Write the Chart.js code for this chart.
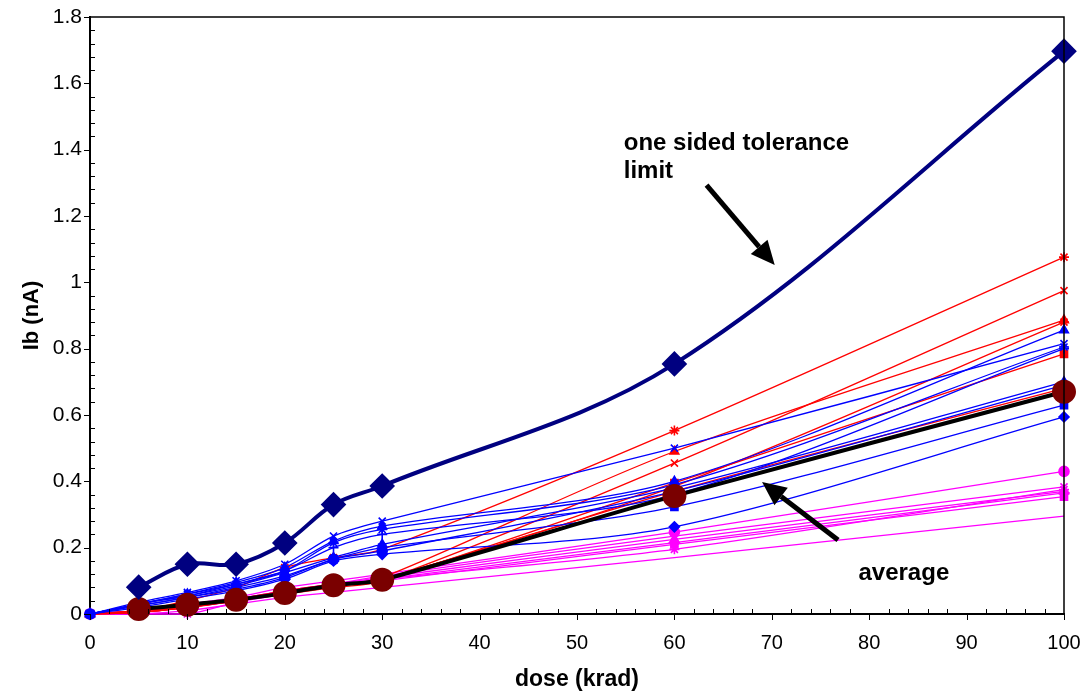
<!DOCTYPE html>
<html>
<head>
<meta charset="utf-8">
<script src="https://cdn.jsdelivr.net/npm/chart.js@4.4.1/dist/chart.umd.min.js"></script>
<style>
  html, body { margin: 0; padding: 0; background: #fff; }
  #wrap { width: 1080px; height: 696px; position: relative; }
</style>
</head>
<body>
<div id="wrap"><canvas id="c" width="1080" height="696"></canvas></div>
<script>
// dose points (krad)
const doses = [0, 5, 10, 15, 20, 25, 30, 60, 100];
const xTicks = [0, 10, 20, 30, 40, 50, 60, 70, 80, 90, 100];
const yTicks = [0, 0.2, 0.4, 0.6, 0.8, 1, 1.2, 1.4, 1.6, 1.8];

// summary curves
const tolerance = [null, 0.081, 0.15, 0.15, 0.214, 0.33, 0.386, 0.754, 1.697];
const average = [null, 0.015, 0.028, 0.043, 0.063, 0.087, 0.103, 0.356, 0.67];

// individual parts, blue group
const blue1 = [0, 0.035, 0.065, 0.10, 0.15, 0.235, 0.28, 0.50, 0.815];
const blue2 = [0, 0.03, 0.06, 0.095, 0.14, 0.22, 0.265, 0.40, 0.856];
const blue3 = [0, 0.03, 0.06, 0.09, 0.13, 0.215, 0.255, 0.39, 0.805];
const blue4 = [0, 0.03, 0.055, 0.085, 0.125, 0.17, 0.21, 0.38, 0.70];
const blue5 = [0, 0.025, 0.05, 0.08, 0.115, 0.165, 0.20, 0.323, 0.63];
const blue6 = [0, 0.02, 0.045, 0.07, 0.105, 0.16, 0.18, 0.263, 0.594];
const blue7 = [0, 0.025, 0.05, 0.075, 0.11, 0.165, 0.19, 0.37, 0.69];
const blue8 = [0, 0.03, 0.055, 0.09, 0.13, 0.20, 0.24, 0.36, 0.80];

// red group
const red1 = [0, 0.01, 0.04, 0.08, 0.14, 0.17, 0.195, 0.553, 1.076];
const red2 = [0, 0.005, 0.02, 0.04, 0.06, 0.08, 0.10, 0.455, 0.975];
const red3 = [0, 0.005, 0.02, 0.045, 0.065, 0.085, 0.11, 0.49, 0.886];
const red4 = [0, 0.01, 0.025, 0.045, 0.07, 0.09, 0.105, 0.385, 0.88];
const red5 = [0, 0.005, 0.02, 0.04, 0.06, 0.085, 0.10, 0.395, 0.784];
const red6 = [0, 0.01, 0.02, 0.04, 0.065, 0.085, 0.105, 0.37, 0.68];

// magenta group
const mag1 = [0, 0.01, 0.03, 0.05, 0.08, 0.10, 0.12, 0.247, 0.43];
const mag2 = [0, 0.005, 0.02, 0.045, 0.07, 0.09, 0.115, 0.235, 0.383];
const mag3 = [0, 0, 0, 0.035, 0.06, 0.085, 0.105, 0.195, 0.375];
const mag4 = [0, 0.01, 0.025, 0.045, 0.07, 0.09, 0.11, 0.225, 0.37];
const mag5 = [0, 0.005, 0.02, 0.04, 0.065, 0.085, 0.105, 0.215, 0.365];
const mag6 = [0, 0.005, 0.02, 0.04, 0.065, 0.085, 0.10, 0.21, 0.354];
const mag7 = [0, 0, 0.01, 0.03, 0.05, 0.065, 0.08, 0.17, 0.295];

const BLUE = '#0000FF', RED = '#FF0000', MAG = '#FF00FF';

function pts(values) {
    return doses.map((d, i) => ({ x: d, y: values[i] }));
}

function part(values, color, style) {
    return {
        data: pts(values),
        borderColor: color,
        backgroundColor: color,
        borderWidth: 1.3,
        pointStyle: style || false,
        pointRadius: style ? 5 : 0,
        pointBorderWidth: 1.6,
        tension: 0.3,
        clip: false
    };
}

const datasets = [
    {
        data: pts(tolerance),
        borderColor: '#000080',
        backgroundColor: '#000080',
        borderWidth: 4,
        pointStyle: 'rectRot',
        pointRadius: 10,
        tension: 0.35,
        clip: false
    },
    {
        data: pts(average),
        borderColor: '#000000',
        backgroundColor: '#7A0000',
        pointBorderColor: '#7A0000',
        borderWidth: 4,
        pointStyle: 'circle',
        pointRadius: 10,
        tension: 0.3,
        clip: false
    },
    part(blue1, BLUE, 'crossRot'),
    part(blue2, BLUE, 'triangle'),
    part(blue3, BLUE, 'star'),
    part(blue4, BLUE, 'triangle'),
    part(blue5, BLUE, 'rect'),
    part(blue6, BLUE, 'rectRot'),
    part(blue7, BLUE, 'circle'),
    part(blue8, BLUE, 'cross'),
    part(red1, RED, 'star'),
    part(red2, RED, 'crossRot'),
    part(red3, RED, 'triangle'),
    part(red4, RED, 'star'),
    part(red5, RED, 'rect'),
    part(red6, RED, null),
    part(mag1, MAG, 'circle'),
    part(mag2, MAG, 'crossRot'),
    part(mag3, MAG, 'star'),
    part(mag4, MAG, 'triangle'),
    part(mag5, MAG, 'rectRot'),
    part(mag6, MAG, 'rect'),
    part(mag7, MAG, null)
];

// tick marks, frame, titles and annotations
const decorations = {
    id: 'decorations',
    afterDraw(chart) {
        const ctx = chart.ctx;
        const xs = chart.scales.x, ys = chart.scales.y;
        const a = chart.chartArea;
        ctx.save();
        ctx.strokeStyle = '#000';

        // frame top and right
        ctx.lineWidth = 1.5;
        ctx.beginPath();
        ctx.moveTo(a.left, a.top);
        ctx.lineTo(a.right, a.top);
        ctx.lineTo(a.right, a.bottom);
        ctx.stroke();

        // x ticks: majors outward, minors inward
        ctx.lineWidth = 1;
        ctx.beginPath();
        for (let v = 0; v <= 100; v += 2) {
            const px = Math.round(xs.getPixelForValue(v)) + 0.5;
            if (v % 10 === 0) {
                ctx.moveTo(px, a.bottom);
                ctx.lineTo(px, a.bottom + 6);
            } else {
                ctx.moveTo(px, a.bottom - 5);
                ctx.lineTo(px, a.bottom);
            }
        }
        // y ticks
        for (let k = 0; k <= 45; k++) {
            const py = Math.round(ys.getPixelForValue(k * 0.04)) + 0.5;
            if (k % 5 === 0) {
                ctx.moveTo(a.left - 6, py);
                ctx.lineTo(a.left, py);
            } else {
                ctx.moveTo(a.left, py);
                ctx.lineTo(a.left + 5, py);
            }
        }
        ctx.stroke();

        // axis titles
        ctx.fillStyle = '#000';
        ctx.font = 'bold 23px "Liberation Sans", Arial, sans-serif';
        ctx.textAlign = 'center';
        ctx.textBaseline = 'middle';
        ctx.fillText('dose (krad)', (a.left + a.right) / 2, 680);
        ctx.save();
        ctx.translate(32, (a.top + a.bottom) / 2);
        ctx.rotate(-Math.PI / 2);
        ctx.font = 'bold 22px "Liberation Sans", Arial, sans-serif';
        ctx.fillText('Ib (nA)', 0, 0);
        ctx.restore();

        // annotations
        ctx.font = 'bold 24px "Liberation Sans", Arial, sans-serif';
        ctx.textAlign = 'left';
        ctx.textBaseline = 'alphabetic';
        ctx.fillText('one sided tolerance', xs.getPixelForValue(54.8), ys.getPixelForValue(1.40));
        ctx.fillText('limit', xs.getPixelForValue(54.8), ys.getPixelForValue(1.315));
        ctx.fillText('average', xs.getPixelForValue(78.9), ys.getPixelForValue(0.103));

        arrow(ctx, xs.getPixelForValue(63.3), ys.getPixelForValue(1.293),
                   xs.getPixelForValue(70.3), ys.getPixelForValue(1.052));
        arrow(ctx, xs.getPixelForValue(76.8), ys.getPixelForValue(0.223),
                   xs.getPixelForValue(69.0), ys.getPixelForValue(0.398));
        ctx.restore();
    }
};

function arrow(ctx, x0, y0, x1, y1) {
    const ang = Math.atan2(y1 - y0, x1 - x0);
    const head = 24, half = 11;
    const bx = x1 - head * Math.cos(ang), by = y1 - head * Math.sin(ang);
    ctx.strokeStyle = '#000';
    ctx.fillStyle = '#000';
    ctx.lineWidth = 5;
    ctx.beginPath();
    ctx.moveTo(x0, y0);
    ctx.lineTo(bx, by);
    ctx.stroke();
    ctx.beginPath();
    ctx.moveTo(x1, y1);
    ctx.lineTo(bx + half * Math.sin(ang), by - half * Math.cos(ang));
    ctx.lineTo(bx - half * Math.sin(ang), by + half * Math.cos(ang));
    ctx.closePath();
    ctx.fill();
}

new Chart(document.getElementById('c'), {
    type: 'line',
    data: { datasets: datasets },
    options: {
        responsive: false,
        animation: false,
        events: [],
        layout: { padding: 0 },
        plugins: { legend: { display: false }, tooltip: { enabled: false } },
        scales: {
            x: {
                type: 'linear',
                min: 0,
                max: 100,
                afterBuildTicks: (s) => { s.ticks = xTicks.map(v => ({ value: v })); },
                afterFit: (s) => {
                    s.height = 82;
                    s.paddingLeft = 0;
                    s.paddingRight = 16;
                },
                grid: { display: false, drawTicks: false },
                border: { display: true, color: '#000', width: 2 },
                ticks: {
                    color: '#000',
                    padding: 17,
                    maxRotation: 0,
                    font: { family: '"Liberation Sans", Arial, sans-serif', size: 20 }
                }
            },
            y: {
                type: 'linear',
                min: 0,
                max: 1.8,
                afterBuildTicks: (s) => { s.ticks = yTicks.map(v => ({ value: v })); },
                afterFit: (s) => {
                    s.width = 90;
                    s.paddingTop = 17;
                    s.paddingBottom = 0;
                },
                grid: { display: false, drawTicks: false },
                border: { display: true, color: '#000', width: 2 },
                ticks: {
                    color: '#000',
                    padding: 8,
                    font: { family: '"Liberation Sans", Arial, sans-serif', size: 21 },
                    callback: (v) => String(Number(v.toFixed(1)))
                }
            }
        }
    },
    plugins: [decorations]
});
</script>
</body>
</html>
